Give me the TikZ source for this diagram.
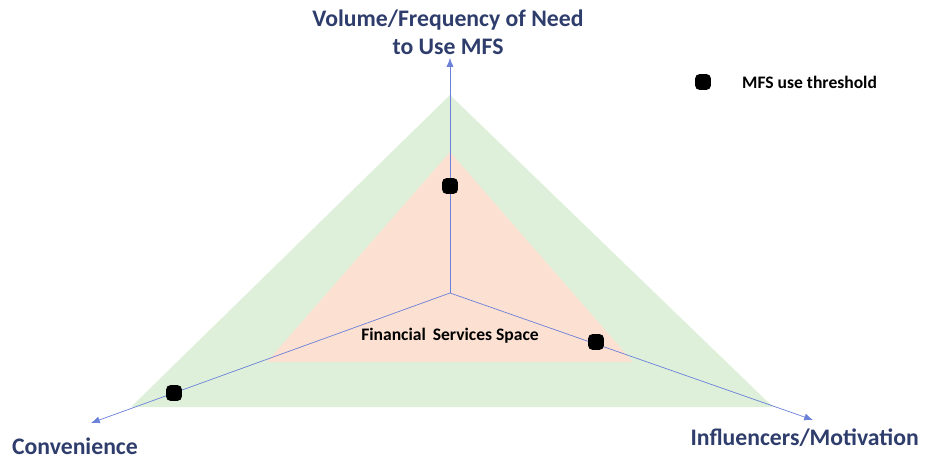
\documentclass[tikz,border=0pt]{standalone}
\usepackage{fontspec}
\setmainfont{Carlito}
\usetikzlibrary{arrows.meta}
\definecolor{axisblue}{rgb}{.42,.5,.85}
\definecolor{labelblue}{rgb}{.18,.24,.42}
\definecolor{outergreen}{rgb}{.87,.94,.85}
\definecolor{innerorange}{rgb}{.99,.88,.82}
\tikzset{
  axislabel/.style={font=\bfseries\fontsize{13.5}{16}\selectfont, text=labelblue, align=center},
  threshold/.style={fill=black, rounded corners=2.5pt, minimum size=9pt, inner sep=0pt},
}

\begin{document}
\begin{tikzpicture}[x=0.02cm, y=-0.02cm]
      \useasboundingbox (0,0) rectangle (937,459);
      \fill[color=outergreen] (450,95) -- (773,407) -- (131,407) -- cycle;
      \fill[color=innerorange] (450,152) -- (633,362) -- (267,362) -- cycle;
      \coordinate (o) at (450,293);
      \coordinate (up) at (450,58);
      \coordinate (conv) at (91,423);
      \coordinate (infl) at (813,420);
      \draw[color=axisblue, -{Latex[length=5pt,width=4pt]}] (o) -- (up);
      \draw[color=axisblue, -{Latex[length=5pt,width=4pt]}] (o) -- (conv);
      \draw[color=axisblue, -{Latex[length=5pt,width=4pt]}] (o) -- (infl);
      \node[threshold] (dotup) at (450,186) {};
      \node[threshold] (dotconv) at (174,393) {};
      \node[threshold] (dotinfl) at (596,342) {};
      \node[threshold] (dotkey) at (703,82) {};
      \node[anchor=west, font=\bfseries\fontsize{10}{12}\selectfont] (key) at (736,82) {MFS use threshold};
      \node[font=\bfseries\fontsize{10}{12}\selectfont] (space) at (450,336) {Financial\, Services Space};
      \node[axislabel] (need) at (448,32) {Volume/Frequency of Need\\to Use MFS};
      \node[axislabel, anchor=west, inner sep=1pt] (convlabel) at (10,446) {Convenience};
      \node[axislabel, anchor=east] (infllabel) at (925,438) {Influencers/Motivation};
    \end{tikzpicture}
\end{document}
